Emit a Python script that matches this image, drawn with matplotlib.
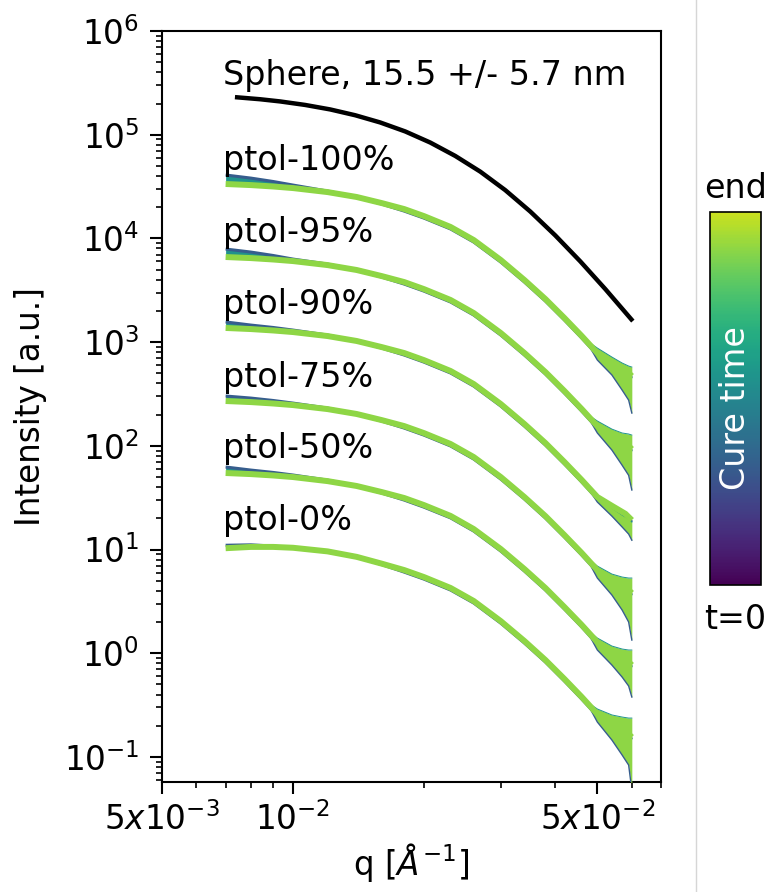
import numpy as np
import matplotlib
matplotlib.use("Agg")
import matplotlib.pyplot as plt
from matplotlib.colors import LinearSegmentedColormap
from matplotlib.cm import ScalarMappable
from matplotlib.lines import Line2D

plt.rcParams["font.family"] = ["DejaVu Sans"]
plt.rcParams["mathtext.fontset"] = "dejavusans"

# ── values ────────────────────────────────────────────────────────────────────
Q = [0.007, 0.008, 0.009, 0.010, 0.012, 0.014, 0.016, 0.018, 0.020, 0.023,
     0.026, 0.030, 0.034, 0.038, 0.042, 0.046, 0.050, 0.054, 0.058, 0.060]

SAMPLES = ["ptol-100%", "ptol-95%", "ptol-90%", "ptol-75%", "ptol-50%", "ptol-0%"]

# end of cure (green, drawn on top)
LATE_100 = [33500, 32700, 31700, 30600, 28000, 25100, 21900, 19200, 16400, 12900,
            9650, 6190, 3970, 2600, 1710, 1150, 785, 645, 540, 470]
LATE_95 = [6620, 6465, 6267, 6050, 5536, 4962, 4330, 3796, 3242, 2550,
           1908, 1224, 785, 514, 338, 227, 155, 127.5, 106.8, 92.9]
LATE_90 = [1370, 1337, 1296, 1251, 1145, 1026, 895, 785, 670, 527,
           394.5, 253, 162.3, 106.3, 69.9, 47.0, 32.1, 26.4, 22.1, 19.2]
LATE_75 = [270.6, 264.2, 256.1, 247.2, 226.2, 202.8, 176.9, 155.1, 132.5, 104.2,
           77.96, 50.0, 32.07, 21.0, 13.8, 9.29, 6.34, 5.21, 4.36, 3.80]
LATE_50 = [54.7, 53.4, 51.8, 50.0, 45.7, 41.0, 35.8, 31.4, 26.8, 21.1,
           15.76, 10.11, 6.48, 4.25, 2.79, 1.88, 1.28, 1.053, 0.882, 0.768]
LATE_0 = [10.3, 10.6, 10.6, 10.4, 9.6, 8.5, 7.3, 6.34, 5.42, 4.26,
          3.19, 2.04, 1.311, 0.859, 0.565, 0.380, 0.259, 0.213, 0.178, 0.155]

# t=0 (blue, underneath)
EARLY_100 = [40900, 38190, 35410, 32710, 28620, 25100, 21420, 18360, 15690, 12340,
             9230, 5920, 3797, 2487, 1636, 1100, 751, 617, 516, 450]
EARLY_95 = [7904, 7390, 6850, 6322, 5658, 4962, 4235, 3631, 3101, 2439,
            1825, 1171, 751, 492, 323, 217, 148, 122, 102, 88.9]
EARLY_90 = [1566, 1461, 1385, 1307, 1170, 1026, 875, 751, 641, 504,
            377, 242, 155, 101.7, 66.9, 45.0, 30.7, 25.3, 21.1, 18.4]
EARLY_75 = [302.3, 288.8, 273.8, 258.3, 231.2, 202.8, 173.0, 148.4, 126.7, 99.7,
            74.6, 47.8, 30.7, 20.1, 13.2, 8.89, 6.06, 4.98, 4.17, 3.63]
EARLY_50 = [62.5, 58.4, 55.4, 52.3, 46.7, 41.0, 35.0, 30.0, 25.6, 20.2,
            15.07, 9.67, 6.20, 4.07, 2.67, 1.80, 1.22, 1.007, 0.844, 0.735]
EARLY_0 = [11.0, 11.1, 10.8, 10.4, 9.6, 8.5, 7.15, 6.06, 5.18, 4.07,
           3.05, 1.95, 1.254, 0.822, 0.540, 0.363, 0.248, 0.204, 0.170, 0.148]

# noisy spread at high q
Q_FAN = [0.046, 0.048, 0.050, 0.054, 0.057, 0.059, 0.060]
FAN_HI_100 = [1150, 990, 877, 718, 629, 588, 575]
FAN_LO_100 = [1150, 900, 672, 482, 345, 276, 207]
FAN_HI_95 = [227, 195, 173.5, 145, 133, 130, 127]
FAN_LO_95 = [227, 178, 133, 91, 65, 52, 37.5]
FAN_HI_90 = [47.0, 40.0, 32.8, 25.1, 21.5, 19.7, 18.4]
FAN_LO_90 = [47.0, 37.0, 28.7, 21.0, 16.5, 14.1, 12.3]
FAN_HI_75 = [9.29, 7.98, 6.93, 5.80, 5.43, 5.31, 5.31]
FAN_LO_75 = [9.29, 7.29, 5.31, 3.64, 2.61, 2.00, 1.34]
FAN_HI_50 = [1.88, 1.61, 1.401, 1.173, 1.098, 1.074, 1.074]
FAN_LO_50 = [1.88, 1.47, 1.074, 0.769, 0.589, 0.483, 0.378]
FAN_HI_0 = [0.380, 0.326, 0.290, 0.254, 0.2425, 0.237, 0.237]
FAN_LO_0 = [0.380, 0.298, 0.217, 0.1455, 0.1043, 0.0835, 0.048]

# sphere model
Q_SPHERE = [0.00744, 0.0084, 0.00934, 0.01066, 0.01217, 0.01389, 0.01585,
            0.0181, 0.02066, 0.02358, 0.02692, 0.03072, 0.03507, 0.04003,
            0.0457, 0.05216, 0.05986]
I_SPHERE = [229500, 219980, 209500, 193800, 175400, 154200, 131400,
            107600, 84090, 62470, 44070, 29230, 18170, 10690,
            6001, 3245, 1656]
SPHERE_LABEL = "Sphere, 15.5 +/- 5.7 nm"

X_MAJOR = [0.005, 0.01, 0.05]
X_MAJOR_LABELS = [r"$5x10^{-3}$", r"$10^{-2}$", r"$5x10^{-2}$"]
X_MINOR = [0.006, 0.007, 0.008, 0.009, 0.02, 0.03, 0.04, 0.06, 0.07]

LATE = [LATE_100, LATE_95, LATE_90, LATE_75, LATE_50, LATE_0]
EARLY = [EARLY_100, EARLY_95, EARLY_90, EARLY_75, EARLY_50, EARLY_0]
FAN_HI = [FAN_HI_100, FAN_HI_95, FAN_HI_90, FAN_HI_75, FAN_HI_50, FAN_HI_0]
FAN_LO = [FAN_LO_100, FAN_LO_95, FAN_LO_90, FAN_LO_75, FAN_LO_50, FAN_LO_0]

# label baselines (data units)
LABEL_Y = [4.57e4, 9.2e3, 1.87e3, 369, 76.3, 15.4]
SPHERE_LABEL_Y = 3.0e5
LABEL_X = 0.0069

# ── figure ────────────────────────────────────────────────────────────────────
cmap = LinearSegmentedColormap.from_list(
    "cure", plt.cm.viridis(np.linspace(0.0, 0.92, 256)))
c_early = cmap(0.32)
c_mid = cmap(0.55)
c_late = cmap(0.9)

fig = plt.figure(figsize=(7.7, 8.92), dpi=100)
ax = fig.add_axes([0.2104, 0.1233, 0.648, 0.8419])

for k in range(len(SAMPLES)):
    ax.fill_between(Q, EARLY[k], LATE[k], color=c_mid, lw=0, zorder=2)
    ax.plot(Q, EARLY[k], color=c_early, lw=2.2, zorder=2,
            solid_capstyle="butt")
    ax.fill_between(Q_FAN, FAN_LO[k], FAN_HI[k], color=c_late, lw=0, zorder=3)
    ax.plot(Q_FAN, FAN_LO[k], color=c_early, lw=1.0, zorder=3)
    ax.plot(Q_FAN, FAN_HI[k], color=c_mid, lw=0.7, zorder=3)
    ax.plot(Q, LATE[k], color=c_late, lw=4.3, zorder=4, solid_capstyle="butt")
    ax.text(LABEL_X, LABEL_Y[k], SAMPLES[k], fontsize=24, ha="left",
            va="baseline", zorder=5)

ax.plot(Q_SPHERE, I_SPHERE, color="black", lw=3.2, zorder=5)
ax.text(LABEL_X, SPHERE_LABEL_Y, SPHERE_LABEL, fontsize=24, ha="left",
        va="baseline", zorder=5)

ax.set_xscale("log")
ax.set_yscale("log")
ax.set_xlim(0.005, 0.07)
ax.set_ylim(0.0573, 1e6)

ax.set_xticks(X_MAJOR)
ax.set_xticklabels(X_MAJOR_LABELS)
ax.set_xticks(X_MINOR, minor=True)
ax.set_xticklabels([], minor=True)

ax.tick_params(which="major", direction="out", length=8.5, width=1.5,
               labelsize=23.5)
ax.tick_params(which="minor", direction="out", length=4.5, width=1.2)
ax.tick_params(axis="y", which="major", pad=8)
ax.tick_params(axis="x", which="major", pad=6)
for sp in ax.spines.values():
    sp.set_linewidth(1.5)

ax.set_xlabel(r"q [$Å^{-1}$]", fontsize=23.5, labelpad=3)
ax.set_ylabel("Intensity [a.u.]", fontsize=23.5, labelpad=12)

# colorbar
cax = fig.add_axes([0.9221, 0.3442, 0.0662, 0.4181])
cb = fig.colorbar(ScalarMappable(cmap=cmap), cax=cax, ticks=[])
cb.outline.set_linewidth(1.2)
cax.text(0.5, 0.4745, "Cure time", rotation=90, color="white", fontsize=24,
         ha="center", va="center", transform=cax.transAxes)
fig.text(0.955, 0.789, "end", fontsize=24, ha="center", va="center")
fig.text(0.955, 0.305, "t=0", fontsize=24, ha="center", va="center")

fig.add_artist(Line2D([0.904, 0.904], [0, 1], transform=fig.transFigure,
                      color="#d6d6d6", lw=1))

fig.savefig("out.png", dpi=100)
plt.close(fig)
